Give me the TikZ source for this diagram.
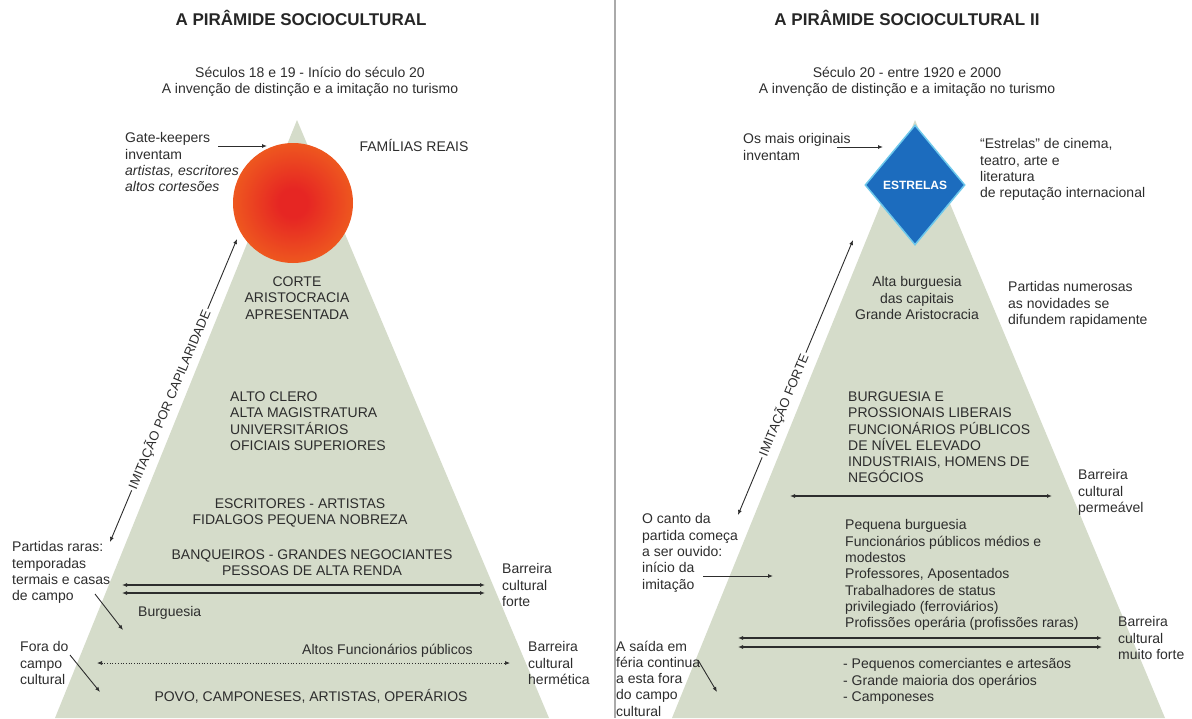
\documentclass[tikz,border=0pt]{standalone}
\usepackage{fontspec}
\setmainfont{Liberation Sans}
\usetikzlibrary{arrows.meta,shapes.geometric}

\definecolor{sage}{RGB}{213,220,202}
\definecolor{ink}{RGB}{45,45,45}
\definecolor{rulegray}{RGB}{170,170,170}
\definecolor{starblue}{RGB}{28,108,190}
\definecolor{starglow}{RGB}{110,200,235}
\definecolor{sunred}{RGB}{230,38,35}
\definecolor{sunmid}{RGB}{240,100,30}
\definecolor{sunrim}{RGB}{245,168,10}

\pgfdeclareradialshading{sunglow}{\pgfpoint{0bp}{0bp}}{color(0bp)=(sunred); color(6bp)=(sunred); color(30bp)=(sunmid); color(50bp)=(sunrim)}

\begin{document}
\begin{tikzpicture}[x=1pt, y=-1pt,
    lbl/.style={font=\fontsize{14}{16.3}\selectfont, text=ink, inner sep=0pt, align=left,
      execute at begin node={\rule{0pt}{13pt}}},
    lblc/.style={lbl, align=center, anchor=north},
    lblw/.style={lbl, anchor=north west},
    ttl/.style={font=\bfseries\fontsize{17}{20}\selectfont, text=black!85, inner sep=0pt, anchor=base},
    arr/.style={draw=ink, line width=0.9pt, -{Latex[length=5pt,width=4pt]}},
    barr/.style={draw=ink, line width=1.1pt, {Latex[length=5pt,width=4pt]}-{Latex[length=5pt,width=4pt]}},
    imit/.style={font=\fontsize{13}{15}\selectfont, text=ink, sloped, fill=white, inner sep=2pt},
    pyr/.style={fill=sage}]
    \useasboundingbox (0,0) rectangle (1192,718);

    % left pyramid
    \fill[pyr] (297,120) -- (549,718) -- (55,718) -- cycle;
    \node[circle, minimum size=120pt, inner sep=0pt, shade, shading=sunglow] (sun) at (293,203) {};

    \node[ttl] (title1) at (301,25) {A PIRÂMIDE SOCIOCULTURAL};
    \node[lblc] (sub1) at (310,66.5) {Séculos 18 e 19 - Início do século 20\\A invenção de distinção e a imitação no turismo};

    \node[lblw] (gate) at (125,132.5) {Gate-keepers\\inventam\\\textit{artistas, escritores}\\\textit{altos cortesões}};
    \node[lblc] (familias) at (414,138.5) {FAMÍLIAS REAIS};
    \node[lblc] (corte) at (297,276.5) {CORTE\\ARISTOCRACIA\\APRESENTADA};
    \node[lblw] (clero) at (230,391.5) {ALTO CLERO\\ALTA MAGISTRATURA\\UNIVERSITÁRIOS\\OFICIAIS SUPERIORES};
    \node[lblc] (escritores) at (300,498.5) {ESCRITORES - ARTISTAS\\FIDALGOS PEQUENA NOBREZA};
    \node[lblc] (banqueiros) at (312,549.5) {BANQUEIROS - GRANDES NEGOCIANTES\\PESSOAS DE ALTA RENDA};
    \node[lblw] (burguesia) at (138,603.5) {Burguesia};
    \node[lblw] (altosf) at (302,641.5) {Altos Funcionários públicos};
    \node[lblc] (povo) at (311,688.5) {POVO, CAMPONESES, ARTISTAS, OPERÁRIOS};
    \node[lblw] (raras) at (12,541.5) {Partidas raras:\\temporadas\\termais e casas\\de campo};
    \node[lblw] (fora) at (20,641.5) {Fora do\\campo\\cultural};
    \node[lblw] (bforte) at (502,563.5) {Barreira\\cultural\\forte};
    \node[lblw] (bherm) at (528,641.5) {Barreira\\cultural\\hermética};

    \coordinate (gateA) at (218,146);
    \coordinate (gateB) at (267,146);
    \coordinate (capA) at (110,542);
    \coordinate (capB) at (237,239);
    \coordinate (rarasA) at (95,594);
    \coordinate (rarasB) at (123,630);
    \coordinate (foraA) at (70,655);
    \coordinate (foraB) at (100,692);
    \coordinate (forteL1) at (122,585);
    \coordinate (forteR1) at (485,585);
    \coordinate (forteL2) at (122,593);
    \coordinate (forteR2) at (485,593);
    \coordinate (hermL) at (97,663);
    \coordinate (hermR) at (510,663);

    \draw[arr] (gateA) -- (gateB);
    \draw[arr, {Latex[length=5pt,width=4pt]}-{Latex[length=5pt,width=4pt]}] (capA) -- node[imit, pos=.47] {IMITAÇÃO POR CAPILARIDADE} (capB);
    \draw[arr] (rarasA) -- (rarasB);
    \draw[arr] (foraA) -- (foraB);
    \draw[barr] (forteL1) -- (forteR1);
    \draw[barr] (forteL2) -- (forteR2);
    \draw[barr, line width=0.7pt, dotted] (hermL) -- (hermR);

    % separator
    \draw[rulegray, line width=1.5pt] (615,0) -- (615,718);

    % right pyramid
    \fill[pyr] (915,120) -- (1165,718) -- (672,718) -- cycle;
    \node[diamond, fill=starblue, draw=starglow, line width=1.5pt, minimum width=100pt, minimum height=120pt,
      inner sep=0pt, text=white, font=\bfseries\fontsize{12}{14}\selectfont] (star) at (915,185) {ESTRELAS};

    \node[ttl] (title2) at (907,25) {A PIRÂMIDE SOCIOCULTURAL II};
    \node[lblc] (sub2) at (907,66.5) {Século 20 - entre 1920 e 2000\\A invenção de distinção e a imitação no turismo};

    \node[lblw] (originais) at (743,133.5) {Os mais originais\\inventam};
    \node[lblw] (estrelas) at (980,138.5) {“Estrelas” de cinema,\\teatro, arte e\\literatura\\de reputação internacional};
    \node[lblc] (alta) at (917,276.5) {Alta burguesia\\das capitais\\Grande Aristocracia};
    \node[lblw] (numerosas) at (1008,281.5) {Partidas numerosas\\as novidades se\\difundem rapidamente};
    \node[lblw] (liberais) at (848,391.5) {BURGUESIA E\\PROSSIONAIS LIBERAIS\\FUNCIONÁRIOS PÚBLICOS\\DE NÍVEL ELEVADO\\INDUSTRIAIS, HOMENS DE\\NEGÓCIOS};
    \node[lblw] (bperm) at (1078,469.5) {Barreira\\cultural\\permeável};
    \node[lblw] (canto) at (642,513.5) {O canto da\\partida começa\\a ser ouvido:\\início da\\imitação};
    \node[lblw] (pequena) at (845,519.5) {Pequena burguesia\\Funcionários públicos médios e\\modestos\\Professores, Aposentados\\Trabalhadores de status\\privilegiado (ferroviários)\\Profissões operária (profissões raras)};
    \node[lblw] (bmuito) at (1118,616.5) {Barreira\\cultural\\muito forte};
    \node[lblw] (comerc) at (843,658.5) {- Pequenos comerciantes e artesãos\\- Grande maioria dos operários\\- Camponeses};
    \node[lblw] (saida) at (616,640.5) {A saída em\\féria continua\\a esta fora\\do campo\\cultural};

    \coordinate (origA) at (837,147);
    \coordinate (origB) at (883,147);
    \coordinate (forteA) at (738,515);
    \coordinate (forteB) at (853,240);
    \coordinate (cantoA) at (703,576);
    \coordinate (cantoB) at (773,576);
    \coordinate (saidaA) at (698,660);
    \coordinate (saidaB) at (717,692);
    \coordinate (permL) at (790,496);
    \coordinate (permR) at (1052,496);
    \coordinate (muitoL1) at (738,638);
    \coordinate (muitoR1) at (1102,638);
    \coordinate (muitoL2) at (738,647);
    \coordinate (muitoR2) at (1102,647);

    \draw[arr] (origA) -- (origB);
    \draw[arr, {Latex[length=5pt,width=4pt]}-{Latex[length=5pt,width=4pt]}] (forteA) -- node[imit, pos=.4] {IMITAÇÃO FORTE} (forteB);
    \draw[arr] (cantoA) -- (cantoB);
    \draw[arr] (saidaA) -- (saidaB);
    \draw[barr] (permL) -- (permR);
    \draw[barr] (muitoL1) -- (muitoR1);
    \draw[barr] (muitoL2) -- (muitoR2);
\end{tikzpicture}
\end{document}
